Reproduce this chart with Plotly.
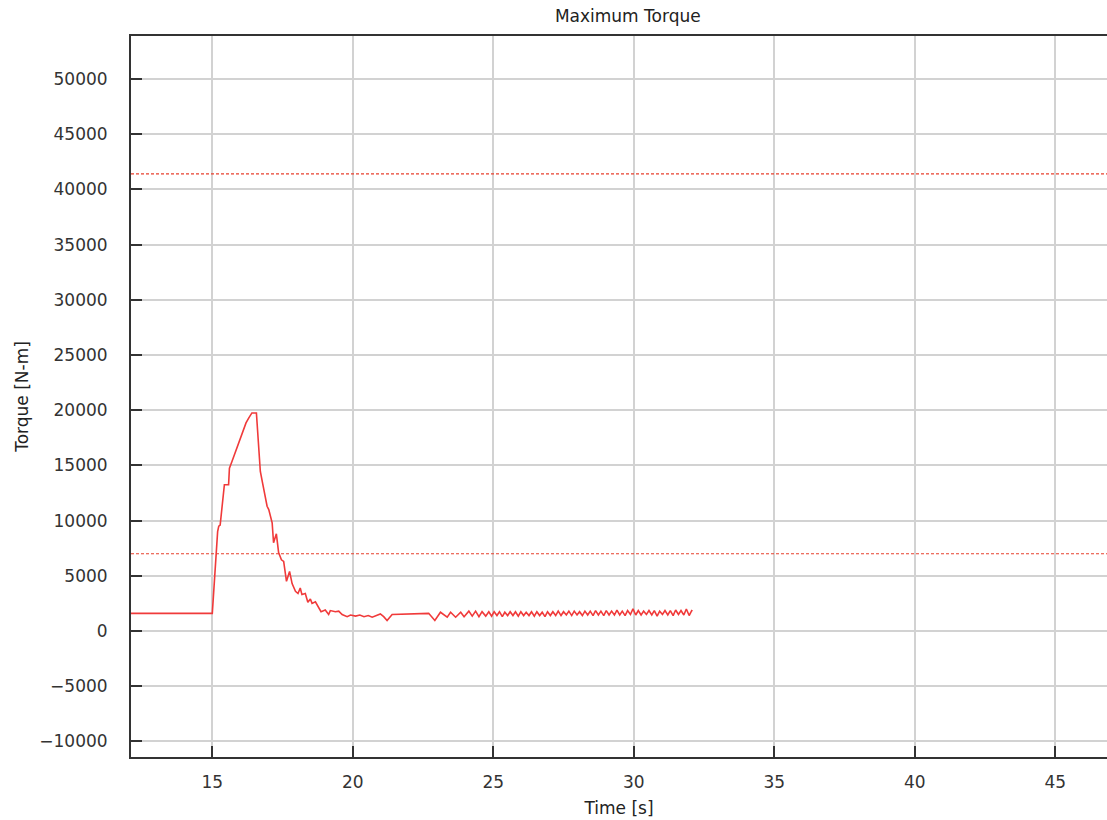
import plotly.graph_objects as go

# ---- data ----
time_s = [12.0, 15.0, 15.19, 15.23, 15.28, 15.43, 15.58, 15.61, 15.70, 15.80, 15.90, 16.00, 16.10, 16.20,
          16.30, 16.41, 16.57, 16.65, 16.71, 16.79, 16.87, 16.95, 17.01, 17.07, 17.13, 17.18, 17.28, 17.36,
          17.46, 17.54, 17.64, 17.75, 17.84, 17.96, 18.05, 18.13, 18.19, 18.31, 18.40, 18.49, 18.55, 18.67,
          18.79, 18.87, 19.02, 19.14, 19.20, 19.38, 19.50, 19.62, 19.80, 19.92, 20.10, 20.25, 20.40, 20.55,
          20.69, 20.85, 20.98, 21.10, 21.22, 21.40, 22.29, 22.70, 22.92, 23.12, 23.36, 23.48, 23.66, 23.84,
          23.96, 24.13, 24.25, 24.37, 24.49, 24.60, 24.73,
          24.84, 24.94, 25.03, 25.13, 25.22, 25.32, 25.41, 25.51, 25.60, 25.70, 25.79, 25.89, 25.98, 26.08,
          26.17, 26.27, 26.36, 26.46, 26.55, 26.65, 26.74, 26.84, 26.93, 27.03, 27.12, 27.22, 27.31, 27.41,
          27.50, 27.60, 27.69, 27.79, 27.88, 27.98, 28.07, 28.17, 28.26, 28.36, 28.45, 28.55, 28.64, 28.74,
          28.83, 28.93, 29.02, 29.12, 29.21, 29.31, 29.40, 29.50, 29.59, 29.69, 29.78, 29.88, 29.97, 30.07,
          30.16, 30.26, 30.35, 30.45, 30.54, 30.64, 30.73, 30.83, 30.92, 31.02, 31.11, 31.21, 31.30, 31.40,
          31.49, 31.59, 31.68, 31.78, 31.87, 31.97, 32.06, 32.09]
torque_nm = [1600, 1600, 9000, 9500, 9600, 13250, 13250, 14750, 15350, 16050, 16750, 17450, 18150, 18850,
             19300, 19750, 19750, 16400, 14450, 13400, 12300, 11300, 11000, 10400, 9800, 8000, 8800, 7100,
             6450, 6300, 4500, 5400, 4300, 3600, 3400, 3900, 3300, 3400, 2600, 2900, 2500, 2650, 2050,
             1750, 1900, 1500, 1850, 1750, 1800, 1500, 1300, 1450, 1350, 1450, 1300, 1400, 1250, 1450,
             1550, 1300, 950, 1500, 1600, 1600, 950, 1700, 1250, 1700, 1250, 1700, 1300, 1800, 1350,
             1800, 1300, 1750, 1350,
             1750, 1350, 1750, 1400, 1750, 1300, 1700, 1400, 1750, 1400, 1750, 1350, 1750, 1400,
             1700, 1400, 1750, 1350, 1750, 1400, 1700, 1300, 1750, 1400, 1750, 1400, 1800, 1400,
             1750, 1450, 1800, 1400, 1800, 1450, 1750, 1400, 1800, 1450, 1800, 1400, 1850, 1450,
             1800, 1400, 1850, 1450, 1800, 1450, 1900, 1450, 1800, 1400, 1850, 1500, 2000, 1450,
             1850, 1450, 1800, 1500, 1850, 1450, 1850, 1350, 1800, 1500, 1850, 1450, 1850, 1400,
             1900, 1500, 1850, 1450, 2000, 1400, 1850, 1800]

limit_values = [41400, 7000]

x_ticks = [15, 20, 25, 30, 35, 40, 45]
y_ticks = [-10000, -5000, 0, 5000, 10000, 15000, 20000, 25000, 30000, 35000, 40000, 45000, 50000]

x_range = [12.107, 46.84]
y_range = [-11410, 53890]

FONT = "DejaVu Sans"
FS = 17

fig = go.Figure()

for lv in limit_values:
    fig.add_trace(go.Scatter(
        x=x_range, y=[lv, lv], mode="lines",
        line=dict(color="#e8402e", width=1.2, dash="3px,2px"),
        hoverinfo="skip", showlegend=False))

fig.add_trace(go.Scatter(
    x=time_s, y=torque_nm, mode="lines",
    line=dict(color="#f03a3a", width=1.6),
    showlegend=False))

axis_common = dict(
    showgrid=True, gridcolor="#d2d2d2", gridwidth=2,
    zeroline=False, showline=True, linecolor="#333333", linewidth=2,
    ticks="inside", ticklen=11, tickwidth=1.5, tickcolor="#333333",
    tickfont=dict(family=FONT, size=FS, color="#333333"),
)

fig.update_layout(
    width=1107, height=820,
    margin=dict(l=131, r=0, t=36, b=63),
    paper_bgcolor="white", plot_bgcolor="white",
    title=dict(text="Maximum Torque", x=0.509, xref="paper", xanchor="center",
               y=0.981, yref="container", yanchor="middle",
               font=dict(family=FONT, size=FS, color="#222222")),
    xaxis=dict(range=x_range, tickvals=x_ticks, mirror=True,
               ticklabelstandoff=9,
               title=dict(text="Time [s]", font=dict(family=FONT, size=FS, color="#222222"), standoff=11),
               **axis_common),
    yaxis=dict(range=y_range, tickvals=y_ticks, tickformat="d",
               ticklabelstandoff=18,
               title=dict(text="Torque [N-m]", font=dict(family=FONT, size=FS, color="#222222"), standoff=6),
               **axis_common),
)

fig.write_html("out.html",
               config={"displayModeBar": False},
               post_script="document.body.style.margin='0';document.body.style.overflow='hidden';")
